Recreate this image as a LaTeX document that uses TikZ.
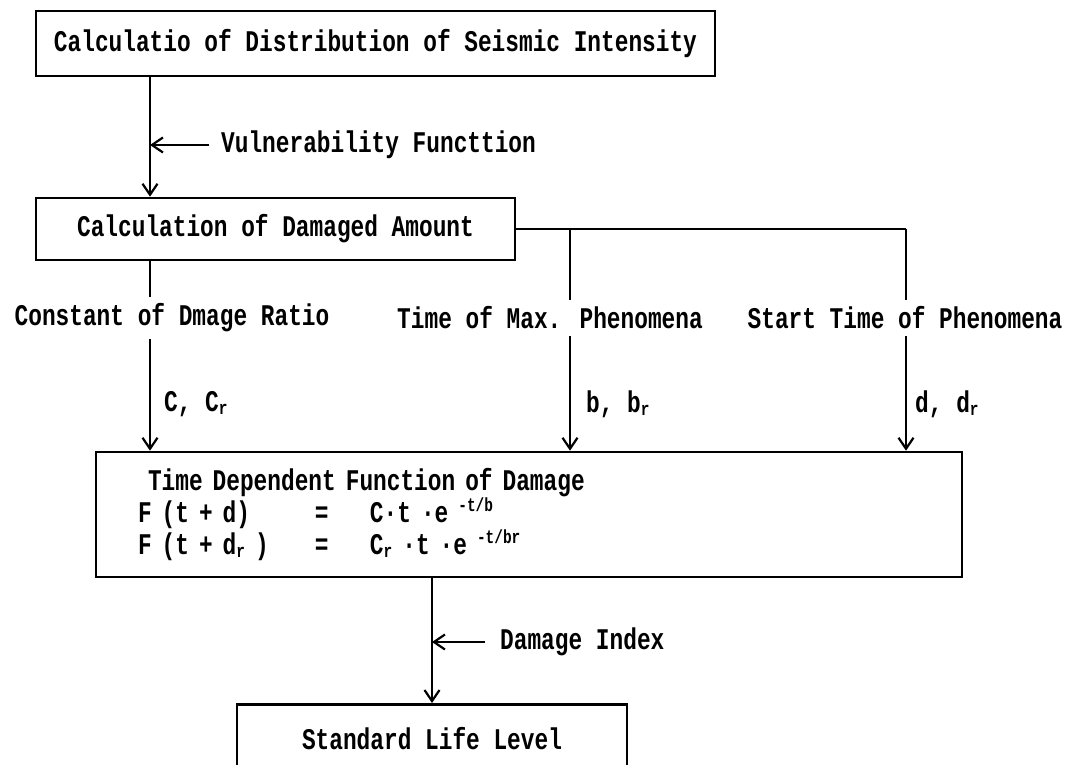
\documentclass[tikz,border=0pt]{standalone}
\usepackage{fontspec}
\setmainfont{Liberation Mono}[FakeStretch=0.76]
\usepackage{tikz}
\usetikzlibrary{arrows.meta,positioning}

% small raised / lowered text for the formulas
\newcommand{\expo}[1]{\raisebox{11pt}{\fontsize{19}{19}\selectfont #1}}
\newcommand{\subr}{\raisebox{-3pt}{\fontsize{19}{19}\selectfont r}}

\begin{document}
\begin{tikzpicture}[x=1pt,y=-1pt,
    txt/.style={font=\bfseries\fontsize{30}{32}\selectfont,inner sep=0pt},
    box/.style={draw,line width=2.6pt,txt},
    lbl/.style={txt,fill=white,inner sep=7pt},
    arr/.style={line width=2.2pt,-{Straight Barb[length=11pt,width=15pt]}}]
\useasboundingbox (0,0) rectangle (1092,765);
\clip (0,0) rectangle (1092,765);

% columns of the arrows
\coordinate (colC) at (150,0);
\coordinate (colB) at (570,0);
\coordinate (colD) at (906,0);

% Boxes
\node[box, minimum width=679pt, minimum height=65pt] (seis) at (375.5,43.5)
    {Calculatio of Distribution of Seismic Intensity};
\node[box, minimum width=479pt, minimum height=62pt] (amount) at (275.5,229)
    {Calculation of Damaged Amount};
\node[box, minimum height=125pt, inner xsep=42pt, text width=782pt, align=left] (timefn) at (529,514.5)
    {\hspace*{10pt}Time Dependent Function of Damage\\
     \makebox[177pt][l]{F (t + d)}\makebox[55pt][l]{=}C·t ·e \expo{-t/b}\\
     \makebox[177pt][l]{F (t + d\subr\ )}\makebox[55pt][l]{=}C\subr\ ·t ·e \expo{-t/br}};
\node[box, minimum width=390pt, minimum height=68pt, anchor=north] (life) at (432,703)
    {Standard Life Level};

% Side notes
\node[txt, anchor=west] (vuln) at (221,145) {Vulnerability Functtion};
\node[txt, anchor=west] (dmg) at (500,642) {Damage Index};

% Arrows
\draw[arr] (seis.south -| colC) -- (amount.north -| colC);
\draw[arr] ([xshift=-12pt]vuln.west) -- (vuln.west -| colC);
\draw[arr] (amount.south -| colC) -- (timefn.north -| colC);
\draw[line width=2.2pt] (amount.east) -- (amount.east -| colD);
\draw[arr] (amount.east -| colB) -- (timefn.north -| colB);
\draw[arr] (amount.east -| colD) -- (timefn.north -| colD);
\draw[arr] (timefn.south -| life.north) -- (life.north);
\draw[arr] ([xshift=-15pt]dmg.west) -- (dmg.west -| life.north);

% Parameter labels
\node[lbl] (ratio) at (172,318) {Constant of Dmage Ratio};
\node[lbl] (tmax) at (550,318) {Time of Max. Phenomena};
\node[lbl] (tstart) at (905,318) {Start Time of Phenomena};

\node[txt, anchor=west] (cc) at (164,404) {C, C\subr};
\node[txt, anchor=west] (bb) at (586,404) {b, b\subr};
\node[txt, anchor=west] (dd) at (915,404) {d, d\subr};

\end{tikzpicture}
\end{document}
